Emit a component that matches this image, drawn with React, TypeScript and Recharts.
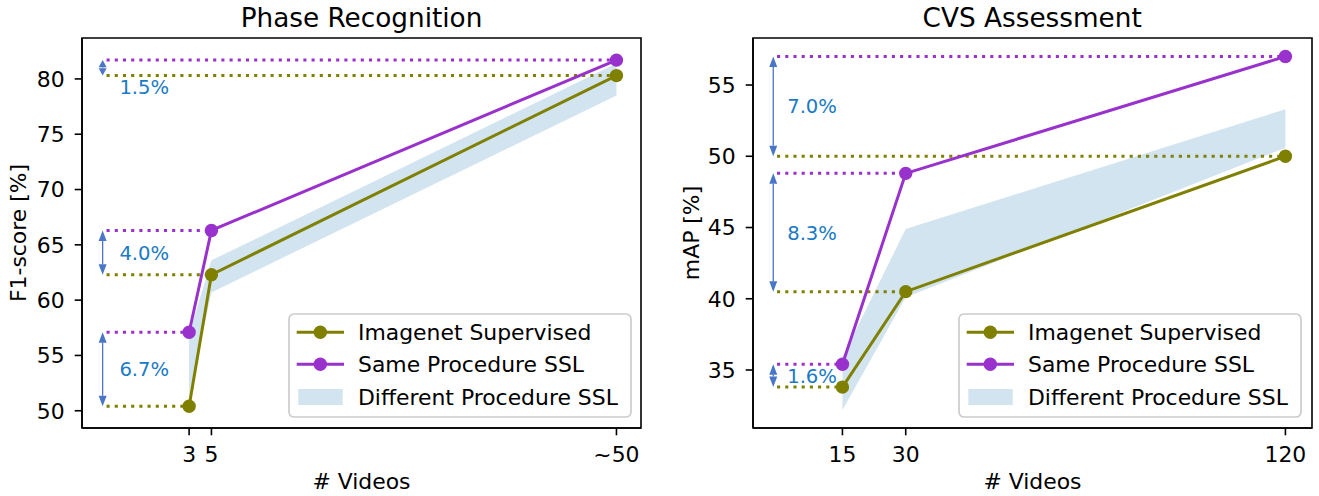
import React from "react";
import {
  ComposedChart,
  Line,
  Area,
  XAxis,
  YAxis,
  ReferenceLine,
  ReferenceDot,
  ReferenceArea,
  Legend,
} from "recharts";

const OLIVE = "#808000";
const PURPLE = "#9932cc";
const BAND = "#1f77b4";
const ARROW = "#4a76c8";
const NOTE = "#1a7ac4";
const FONT = "DejaVu Sans, sans-serif";
const FS = 21.9;
const DOT_R = 6.7;

// Phase Recognition
const phaseVideos = [3, 5, 41.3];
const phaseTickLabels = ["3", "5", "~50"];
const phaseImagenet = [50.4, 62.3, 80.3];
const phaseSSL = [57.1, 66.3, 81.7];
const phaseBandLow = [51.3, 60.7, 78.5];
const phaseBandHigh = [56.9, 63.6, 81.4];
const phaseYTicks = [50, 55, 60, 65, 70, 75, 80];
const phaseGaps = ["6.7%", "4.0%", "1.5%"];

// CVS Assessment
const cvsVideos = [15, 30, 120];
const cvsTickLabels = ["15", "30", "120"];
const cvsImagenet = [33.8, 40.5, 50.0];
const cvsSSL = [35.4, 48.8, 57.0];
const cvsBandLow = [32.2, 40.1, 50.6];
const cvsBandHigh = [35.9, 44.9, 53.3];
const cvsYTicks = [35, 40, 45, 50, 55];
const cvsGaps = ["1.6%", "8.3%", "7.0%"];

const legendLabels = ["Imagenet Supervised", "Same Procedure SSL", "Different Procedure SSL"];

const H = 496;

function ArrowShape(p: any) {
  const x = p.x1;
  const top = Math.min(p.y1, p.y2);
  const bot = Math.max(p.y1, p.y2);
  const L = Math.min(10.5, (bot - top) / 2 - 0.5);
  const W = 4;
  return (
    <g>
      <line x1={x} y1={top + L} x2={x} y2={bot - L} stroke={ARROW} strokeWidth={1.3} />
      <polygon points={`${x},${top} ${x - W},${top + L} ${x + W},${top + L}`} fill={ARROW} />
      <polygon points={`${x},${bot} ${x - W},${bot - L} ${x + W},${bot - L}`} fill={ARROW} />
    </g>
  );
}

function LegendBox() {
  return (
    <svg width={345} height={106} style={{ display: "block", overflow: "visible" }}>
      <rect x={1} y={1} width={342} height={103} rx={5} fill="#fff" fillOpacity={0.8} stroke="#cccccc" strokeWidth={1.7} />
      {[OLIVE, PURPLE].map((c, i) => (
        <g key={c}>
          <line x1={8.7} x2={56} y1={19.3 + i * 32} y2={19.3 + i * 32} stroke={c} strokeWidth={3} />
          <circle cx={32.3} cy={19.3 + i * 32} r={DOT_R} fill={c} />
        </g>
      ))}
      <rect x={10.3} y={76} width={44.4} height={16} fill={BAND} fillOpacity={0.2} />
      {legendLabels.map((t, i) => (
        <text key={t} x={70} y={[19.3, 51.3, 84][i]} dy="0.35em" fontSize={FS} fontFamily={FONT} fill="#000">
          {t}
        </text>
      ))}
    </svg>
  );
}

type PanelProps = {
  left: number;
  width: number;
  yAxisWidth: number;
  marginRight: number;
  yLabel: string;
  yLabelOffset: number;
  videos: number[];
  tickLabels: string[];
  imagenet: number[];
  ssl: number[];
  low: number[];
  high: number[];
  yTicks: number[];
  gaps: string[];
  xDomain: [number, number];
  yDomain: [number, number];
  guideStart: number;
  arrowX: number;
  noteX: number;
  noteAt?: (number | undefined)[];
  legendLeft: number;
};

function Panel(props: PanelProps) {
  const data = props.videos.map((x, i) => ({
    x,
    imagenet: props.imagenet[i],
    ssl: props.ssl[i],
    band: [props.low[i], props.high[i]],
  }));
  const axisStyle = { stroke: "#000", strokeWidth: 1.6 };
  const tickStyle = { fill: "#000", fontSize: FS, fontFamily: FONT };

  return (
    <div style={{ position: "absolute", left: props.left, top: 0 }}>
      <ComposedChart
        width={props.width}
        height={H}
        data={data}
        margin={{ top: 38, right: props.marginRight, bottom: 0, left: 0 }}
      >
        <XAxis
          dataKey="x"
          type="number"
          domain={props.xDomain}
          allowDataOverflow
          ticks={props.videos}
          interval={0}
          tickFormatter={(v, i) => props.tickLabels[i]}
          height={68}
          tick={tickStyle}
          tickLine={axisStyle}
          axisLine={axisStyle}
          tickSize={7.3}
          tickMargin={11}
          label={{ value: "# Videos", position: "insideBottom", offset: 7.5, fill: "#000", fontSize: FS, fontFamily: FONT }}
        />
        <YAxis
          type="number"
          domain={props.yDomain}
          allowDataOverflow
          ticks={props.yTicks}
          interval={0}
          width={props.yAxisWidth}
          tick={tickStyle}
          tickLine={axisStyle}
          axisLine={axisStyle}
          tickSize={7.3}
          tickMargin={10}
          label={{
            value: props.yLabel,
            angle: -90,
            position: "insideLeft",
            offset: props.yLabelOffset,
            fill: "#000",
            fontSize: FS,
            fontFamily: FONT,
            style: { textAnchor: "middle" },
          }}
        />
        <ReferenceArea
          x1={props.xDomain[0]}
          x2={props.xDomain[1]}
          y1={props.yDomain[0]}
          y2={props.yDomain[1]}
          fill="none"
          stroke="#000"
          strokeWidth={1.6}
          ifOverflow="visible"
        />
        <Area
          dataKey="band"
          type="linear"
          fill={BAND}
          fillOpacity={0.2}
          stroke="none"
          isAnimationActive={false}
          legendType="none"
        />
        {props.videos.map((x, i) => (
          <ReferenceLine
            key={`gi${i}`}
            segment={[{ x: props.guideStart, y: props.imagenet[i] }, { x, y: props.imagenet[i] }]}
            stroke={OLIVE}
            strokeWidth={3}
            strokeDasharray="3.1 5.1"
          />
        ))}
        {props.videos.map((x, i) => (
          <ReferenceLine
            key={`gs${i}`}
            segment={[{ x: props.guideStart, y: props.ssl[i] }, { x, y: props.ssl[i] }]}
            stroke={PURPLE}
            strokeWidth={3}
            strokeDasharray="3.1 5.1"
          />
        ))}
        {props.videos.map((_, i) => (
          <ReferenceLine
            key={`ar${i}`}
            segment={[{ x: props.arrowX, y: props.imagenet[i] }, { x: props.arrowX, y: props.ssl[i] }]}
            shape={ArrowShape}
          />
        ))}
        {props.gaps.map((g, i) => (
          <ReferenceDot
            key={`n${i}`}
            x={props.noteX}
            y={props.noteAt?.[i] ?? (props.imagenet[i] + props.ssl[i]) / 2}
            r={0}
            shape={(p: any) => (
              <text x={p.cx} y={p.cy} dy="0.36em" fill={NOTE} fontSize={19.6} fontFamily={FONT}>
                {g}
              </text>
            )}
          />
        ))}
        <Line
          dataKey="imagenet"
          type="linear"
          stroke={OLIVE}
          strokeWidth={3}
          dot={{ r: DOT_R, fill: OLIVE, stroke: OLIVE, strokeWidth: 0 }}
          activeDot={false}
          isAnimationActive={false}
        />
        <Line
          dataKey="ssl"
          type="linear"
          stroke={PURPLE}
          strokeWidth={3}
          dot={{ r: DOT_R, fill: PURPLE, stroke: PURPLE, strokeWidth: 0 }}
          activeDot={false}
          isAnimationActive={false}
        />
        <Legend
          layout="vertical"
          align="center"
          verticalAlign="middle"
          content={() => <LegendBox />}
          wrapperStyle={{ left: props.legendLeft - 1, top: 313, width: 345, height: 106 }}
        />
      </ComposedChart>
    </div>
  );
}

export default function App() {
  return (
    <div style={{ position: "relative", width: 1319, height: H, background: "#fff", overflow: "hidden" }}>
      <style>{"body{margin:0}"}</style>
      <Panel
        left={0}
        width={660}
        yAxisWidth={82}
        marginRight={19}
        yLabel="F1-score [%]"
        yLabelOffset={18}
        videos={phaseVideos}
        tickLabels={phaseTickLabels}
        imagenet={phaseImagenet}
        ssl={phaseSSL}
        low={phaseBandLow}
        high={phaseBandHigh}
        yTicks={phaseYTicks}
        gaps={phaseGaps}
        xDomain={[-6.6, 43.5]}
        yDomain={[48.44, 83.7]}
        guideStart={-4.4}
        arrowX={-4.75}
        noteX={-3.25}
        noteAt={[undefined, undefined, 79.23]}
        legendLeft={289}
      />
      <Panel
        left={660}
        width={659}
        yAxisWidth={93}
        marginRight={7}
        yLabel="mAP [%]"
        yLabelOffset={31}
        videos={cvsVideos}
        tickLabels={cvsTickLabels}
        imagenet={cvsImagenet}
        ssl={cvsSSL}
        low={cvsBandLow}
        high={cvsBandHigh}
        yTicks={cvsYTicks}
        gaps={cvsGaps}
        xDomain={[-6.2, 126.3]}
        yDomain={[30.93, 58.3]}
        guideStart={-0.5}
        arrowX={-1.4}
        noteX={1.9}
        legendLeft={299.3}
      />
      <svg width={1319} height={40} style={{ position: "absolute", left: 0, top: 0 }}>
        <text x={361.5} y={26.7} textAnchor="middle" fontSize={26.3} fontFamily={FONT} fill="#000">
          Phase Recognition
        </text>
        <text x={1032.2} y={26.7} textAnchor="middle" fontSize={26.3} fontFamily={FONT} fill="#000">
          CVS Assessment
        </text>
      </svg>
    </div>
  );
}
